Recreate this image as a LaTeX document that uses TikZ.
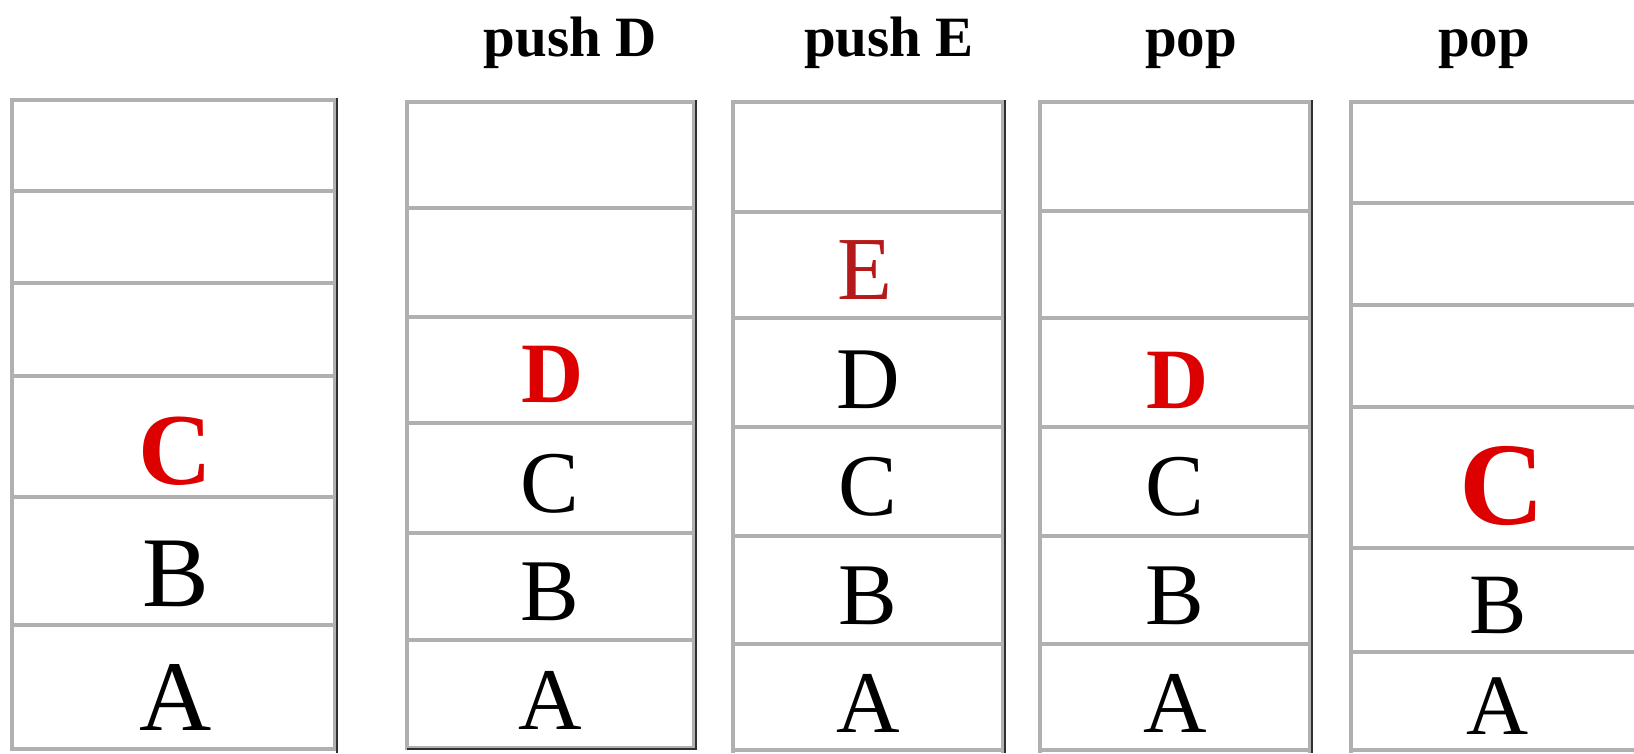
\documentclass[tikz,border=0pt]{standalone}
\usepackage{fontspec}
\setmainfont{Liberation Serif}
\definecolor{gridgray}{HTML}{B0B0B0}
\definecolor{edgedark}{HTML}{303030}
\definecolor{popred}{HTML}{DD0000}
\definecolor{pushred}{HTML}{B51A1A}
\begin{document}
\begin{tikzpicture}[x=1pt,y=-1pt,
  divider/.style={draw=gridgray,line width=3.5pt},
  leftedge/.style={draw=gridgray,line width=4pt},
  rightedge/.style={draw=edgedark,line width=2.2pt},
  opname/.style={anchor=base,inner sep=0pt,font=\fontsize{57}{57}\selectfont\bfseries},
  letterL/.style={inner sep=0pt,font=\fontsize{100}{100}\selectfont},
  letterM/.style={inner sep=0pt,font=\fontsize{88}{88}\selectfont},
  letterS/.style={inner sep=0pt,font=\fontsize{86}{86}\selectfont},
  hotL/.style={inner sep=0pt,text=popred,font=\fontsize{102}{102}\selectfont\bfseries},
  hotM/.style={inner sep=0pt,text=popred,font=\fontsize{86}{86}\selectfont\bfseries},
  hotXL/.style={inner sep=0pt,text=popred,font=\fontsize{118}{118}\selectfont\bfseries},
  newE/.style={inner sep=0pt,text=pushred,font=\fontsize{90}{90}\selectfont}]
\useasboundingbox (0,0) rectangle (1634,753);
\fill[white] (0,0) rectangle (1634,753);
\clip (0,0) rectangle (1634,753);

% stack 1
\foreach \y in {100,191,283,376,497,625,749} \draw[divider] (12,\y) -- (336,\y);
\draw[leftedge] (12,98) -- (12,751);
\draw[leftedge] (335,98) -- (335,751);
\draw[rightedge] (337,98) -- (337,753);
% stack 2
\foreach \y in {102,208,317,423,533,640,748} \draw[divider] (407,\y) -- (695,\y);
\draw[leftedge] (407,100) -- (407,750);
\draw[leftedge] (694,100) -- (694,750);
\draw[rightedge] (696,100) -- (696,750);
\draw[rightedge] (407,749) -- (696,749);
% stack 3
\foreach \y in {102,212,318,427,536,644,750} \draw[divider] (733,\y) -- (1004,\y);
\draw[leftedge] (733,100) -- (733,753);
\draw[leftedge] (1003,100) -- (1003,753);
\draw[rightedge] (1005,100) -- (1005,753);
% stack 4
\foreach \y in {102,211,318,427,536,644,750} \draw[divider] (1040,\y) -- (1311,\y);
\draw[leftedge] (1040,100) -- (1040,753);
\draw[leftedge] (1310,100) -- (1310,753);
\draw[rightedge] (1312,100) -- (1312,753);
% stack 5
\foreach \y in {102,203,305,407,548,652,750} \draw[divider] (1351,\y) -- (1645,\y);
\draw[leftedge] (1351,100) -- (1351,753);

% operation labels
\node[opname] (l2) at (570,56) {push D};
\node[opname] (l3) at (889,56) {push E};
\node[opname] (l4) at (1191,56) {pop};
\node[opname] (l5) at (1484,56) {pop};

% stack 1 contents
\node[hotL] (s1c) at (175,451) {C};
\node[letterL] (s1b) at (176,574) {B};
\node[letterL] (s1a) at (176,697) {A};
% stack 2 contents
\node[hotM] (s2d) at (553,374) {D};
\node[letterM] (s2c) at (550,484) {C};
\node[letterM] (s2b) at (550,592) {B};
\node[letterM] (s2a) at (550,700) {A};
% stack 3 contents
\node[newE] (s3e) at (865,270) {E};
\node[letterM] (s3d) at (868,380) {D};
\node[letterM] (s3c) at (868,487) {C};
\node[letterM] (s3b) at (868,596) {B};
\node[letterM] (s3a) at (868,703) {A};
% stack 4 contents
\node[hotM] (s4d) at (1178,380) {D};
\node[letterM] (s4c) at (1175,487) {C};
\node[letterM] (s4b) at (1175,596) {B};
\node[letterM] (s4a) at (1175,703) {A};
% stack 5 contents
\node[hotXL] (s5c) at (1502,486) {C};
\node[letterS] (s5b) at (1498,605) {B};
\node[letterS] (s5a) at (1498,706) {A};
\end{tikzpicture}
\end{document}
